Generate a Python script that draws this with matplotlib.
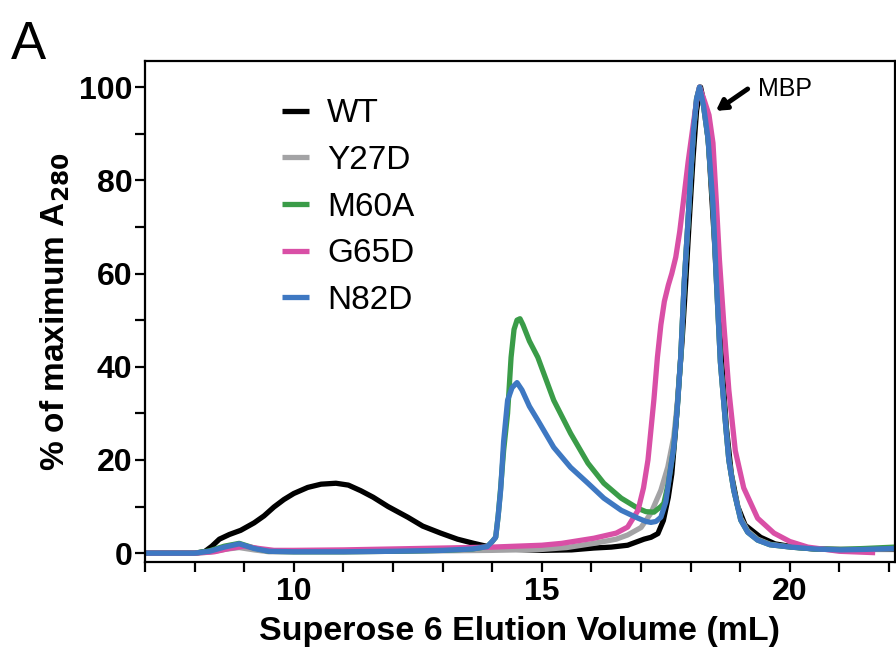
import matplotlib
matplotlib.use("Agg")
import matplotlib.pyplot as plt
from matplotlib.ticker import MultipleLocator

plt.rcParams['font.family'] = ['Liberation Sans', 'DejaVu Sans']

# ---- data ----
wt_x = [7.0, 8.0, 8.2, 8.35, 8.5, 8.7, 8.93, 9.2, 9.4, 9.6, 9.8, 10.0, 10.28, 10.55, 10.85,
        11.1, 11.35, 11.6, 11.9, 12.3, 12.6, 12.96, 13.3, 13.63, 14.0, 14.5, 15.0, 15.6,
        16.05, 16.4, 16.73, 17.06, 17.2, 17.34, 17.45, 17.55, 17.62, 17.7, 17.76, 17.83,
        17.9, 17.97, 18.05, 18.12, 18.2, 18.28, 18.36, 18.44, 18.52, 18.62, 18.72, 18.82,
        18.95, 19.1, 19.41, 19.7, 20.08, 20.5, 21.0, 22.12]
wt_y = [0, 0, 0.3, 1.5, 3.0, 4.0, 4.9, 6.5, 8.0, 9.9, 11.5, 12.8, 14.1, 14.8, 15.0,
        14.6, 13.4, 12.0, 10.0, 7.7, 5.8, 4.3, 3.0, 2.1, 1.2, 0.8, 0.6, 0.7,
        1.1, 1.3, 1.7, 3.0, 3.4, 4.2, 7, 12, 17, 27, 36, 46,
        58, 71, 85, 95, 100, 96, 88, 74, 60, 42, 27, 17,
        10, 6, 3.4, 2.0, 1.3, 0.9, 0.8, 0.8]

y27d_x = [7.0, 8.0, 8.3, 8.6, 8.9, 9.2, 9.5, 10.0, 11.0, 12.0, 13.0, 14.0, 15.0, 15.5,
          16.05, 16.5, 16.73, 17.0, 17.2, 17.4, 17.54, 17.66, 17.73, 17.8, 17.87, 17.94,
          18.0, 18.06, 18.12, 18.18, 18.26, 18.35, 18.45, 18.51, 18.6, 18.71, 18.77,
          18.87, 19.01, 19.15, 19.35, 19.6, 20.02, 20.5, 21.03, 21.5, 22.12]
y27d_y = [0, 0, 0.2, 0.8, 1.2, 0.7, 0.3, 0.3, 0.3, 0.4, 0.5, 0.6, 0.8, 1.2,
          2.1, 3.0, 3.9, 5.5, 8.6, 13.5, 18.5, 25, 32, 42, 58, 70,
          81, 91, 97.5, 100, 96, 89, 75, 60.6, 41, 27, 20,
          13.5, 7.5, 4.8, 3.0, 1.9, 1.3, 0.9, 0.7, 0.8, 0.9]

m60a_x = [7.0, 8.0, 8.3, 8.6, 8.9, 9.2, 9.5, 10.0, 11.0, 12.0, 13.0, 13.6, 13.9, 14.0,
          14.07, 14.12, 14.17, 14.23, 14.31, 14.38, 14.44, 14.5, 14.56, 14.62, 14.75,
          14.92, 15.24, 15.58, 15.93, 16.25, 16.6, 16.94, 17.1, 17.26, 17.4, 17.46,
          17.55, 17.6, 17.66, 17.73, 17.8, 17.87, 17.94, 18.0, 18.06, 18.12, 18.18,
          18.26, 18.35, 18.45, 18.51, 18.6, 18.71, 18.77, 18.87, 19.01, 19.15, 19.35,
          19.6, 20.02, 20.5, 21.03, 21.5, 22.12]
m60a_y = [0, 0, 0.5, 1.5, 2.1, 1.1, 0.4, 0.3, 0.3, 0.4, 0.6, 0.9, 1.4, 2.5,
          3.4, 8, 14, 22, 30, 42, 48, 50, 50.3, 49, 45.5,
          42, 32.8, 25.7, 19.3, 15, 11.8, 9.6, 8.9, 8.8, 10, 10.7,
          15, 18.5, 22.7, 31, 42, 58, 70, 81, 91, 97.5, 100,
          96, 89, 75, 60.6, 41, 27, 20, 13.5, 7.1, 4.5, 2.8,
          1.8, 1.3, 0.9, 0.8, 1.0, 1.3]

g65d_x = [7.0, 8.0, 8.4, 8.7, 9.0, 9.3, 9.6, 10.0, 11.0, 12.0, 13.0, 14.0, 15.0, 15.4,
          16.05, 16.5, 16.73, 16.94, 17.05, 17.14, 17.26, 17.33, 17.4, 17.47, 17.55, 17.62,
          17.7, 17.78, 17.86, 17.95, 18.04, 18.12, 18.18, 18.28, 18.37, 18.45, 18.52,
          18.58, 18.67, 18.77, 18.9, 19.07, 19.35, 19.68, 20.0, 20.36, 21.0, 21.72]
g65d_y = [0, 0, 0.3, 1.0, 1.5, 1.0, 0.6, 0.6, 0.7, 0.9, 1.1, 1.3, 1.7, 2.1,
          3.2, 4.3, 5.6, 9.2, 14, 20, 33, 42, 49, 54, 57.5, 60,
          63.5, 69, 76, 84, 91, 97, 100, 97, 94, 88, 75,
          63, 49, 35, 22, 14, 7.5, 4.3, 2.5, 1.3, 0.4, 0.1]

n82d_x = [7.0, 8.0, 8.3, 8.6, 8.9, 9.2, 9.5, 10.0, 11.0, 12.0, 13.0, 13.6, 13.9, 14.0,
          14.07, 14.12, 14.17, 14.23, 14.31, 14.4, 14.5, 14.6, 14.75, 14.92, 15.24,
          15.58, 15.93, 16.25, 16.6, 16.94, 17.1, 17.2, 17.3, 17.4, 17.5, 17.6, 17.66,
          17.73, 17.8, 17.87, 17.94, 18.0, 18.06, 18.12, 18.18, 18.26, 18.35, 18.45,
          18.51, 18.6, 18.71, 18.77, 18.87, 19.01, 19.15, 19.35, 19.6, 20.02, 20.5,
          21.03, 21.5, 22.12]
n82d_y = [0, 0, 0.4, 1.3, 2.0, 1.0, 0.4, 0.3, 0.3, 0.4, 0.6, 0.9, 1.4, 2.5,
          3.4, 8, 13.5, 24, 32.8, 35.5, 36.6, 35, 31.5, 28.5, 22.7,
          18.4, 15, 11.8, 9.2, 7.5, 6.8, 6.6, 6.8, 7.7, 11, 18.5, 22.7,
          31, 42, 58, 70, 81, 91, 97.5, 100, 96, 89, 75,
          60.6, 41, 27, 20, 13.5, 7.1, 4.5, 2.8, 1.8, 1.3, 0.9,
          0.7, 0.8, 1.0]

labels = ['WT', 'Y27D', 'M60A', 'G65D', 'N82D']
colors = ['#000000', '#a3a3a5', '#3a9c48', '#d94fa6', '#3e78c2']
series = [(wt_x, wt_y), (y27d_x, y27d_y), (m60a_x, m60a_y), (g65d_x, g65d_y), (n82d_x, n82d_y)]

x_major = [10, 15, 20]
y_major = [0, 20, 40, 60, 80, 100]

fig = plt.figure(figsize=(8.96, 6.51), dpi=100)
ax = fig.add_axes([0.1618, 0.1367, 0.8371, 0.7696])

for (xs, ys), lab, c in zip(series, labels, colors):
    ax.plot(xs, ys, color=c, lw=3.8, label=lab, solid_capstyle='butt', solid_joinstyle='round')

ax.set_xlim(7.0, 22.12)
ax.set_ylim(-1.9, 105.6)
ax.set_xticks(x_major)
ax.set_yticks(y_major)
ax.xaxis.set_minor_locator(MultipleLocator(1))
ax.yaxis.set_minor_locator(MultipleLocator(10))
ax.tick_params(which='both', direction='out', length=7, width=1.6, color='black')
ax.tick_params(which='major', labelsize=23)
ax.tick_params(axis='y', which='major', pad=2)
ax.tick_params(axis='x', which='major', pad=4)
for lbl in ax.get_xticklabels() + ax.get_yticklabels():
    lbl.set_fontweight('bold')
for s in ax.spines.values():
    s.set_linewidth(1.6)
ax.tick_params(top=False, right=False)

ax.set_xlabel('Superose 6 Elution Volume (mL)', fontsize=24.5, fontweight='bold', labelpad=6)
ax.set_ylabel('% of maximum A$_{\\mathbf{280}}$', fontsize=24, fontweight='bold', labelpad=5)

leg = ax.legend(loc='upper left', bbox_to_anchor=(0.165, 0.952), frameon=False,
                fontsize=24, handlelength=0.8, handletextpad=0.55, labelspacing=0.47,
                borderaxespad=0)

ax.annotate('', xy=(18.51, 94.9), xytext=(19.15, 99.6),
            arrowprops=dict(arrowstyle='-|>,head_length=0.6,head_width=0.35',
                            color='black', lw=3.5, shrinkA=0, shrinkB=0))
ax.text(19.35, 99.6, 'MBP', fontsize=18, va='center', ha='left')

fig.text(0.012, 0.97, 'A', fontsize=38, va='top', ha='left')

fig.savefig('out.png', dpi=100)
